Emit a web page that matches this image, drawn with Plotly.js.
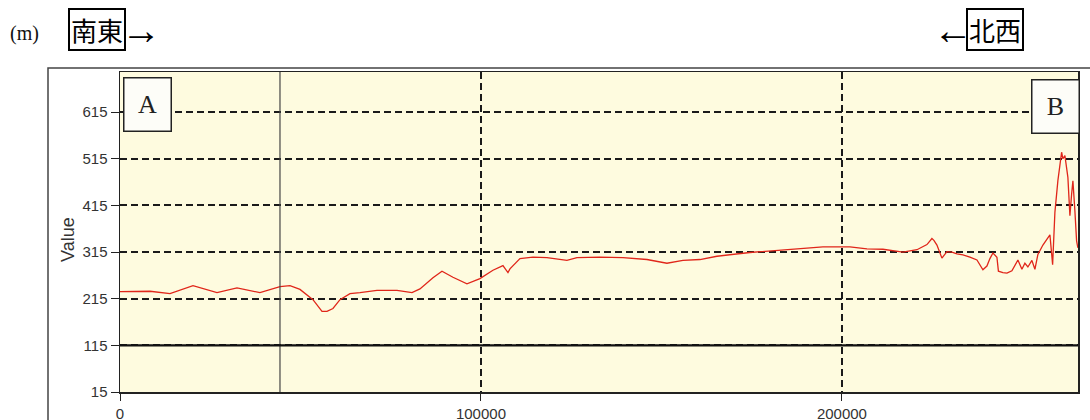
<!DOCTYPE html>
<html>
<head>
<meta charset="utf-8">
<script src="https://cdn.plot.ly/plotly-3.0.1.min.js"></script>
<style>
html,body{margin:0;padding:0;background:#ffffff;}
#chart{width:1090px;height:420px;}
</style>
</head>
<body>
<div id="chart"></div>
<script>
// Horizontal distance (m) along the profile and elevation (m)
const distance = [0, 8310, 13850, 20220, 26870, 32410, 38780, 44320, 47090, 49860,
  53460, 55960, 57340, 59000, 60940, 63710, 66480, 71190, 76730, 80890,
  83100, 86700, 89200, 92240, 96120, 99720, 103320, 106090, 107480, 108030,
  110800, 114400, 118280, 123820, 126590, 132960, 139340, 145980, 151520, 155960,
  160660, 165370, 174510, 181990, 188370, 194740, 202220, 206930, 211360, 216900,
  220780, 223550, 224930, 225480, 226320, 227700, 229090, 230470, 231860, 233520,
  235460, 237400, 239060, 240170, 241000, 241830, 242940, 243350, 244600, 245710,
  247090, 247920, 248750, 249860, 250690, 251520, 252630, 253460, 254290, 255680,
  256790, 257620, 258370, 259000, 259830, 260860, 261220, 261770, 262600, 263160,
  263630, 263990, 264540, 265010, 265370];
const elevation = [230, 231, 226, 243, 228, 238, 228, 241, 243, 235,
  213, 188, 188, 194, 213, 226, 228, 233, 233, 228,
  236, 260, 274, 261, 247, 258, 276, 286, 271, 279,
  301, 304, 303, 297, 303, 304, 303, 299, 291, 297,
  299, 306, 314, 319, 322, 326, 326, 322, 321, 315,
  320, 331, 344, 340, 330, 302, 316, 315, 311, 309,
  304, 298, 277, 285, 301, 313, 304, 274, 271, 270,
  275, 286, 298, 278, 291, 283, 297, 278, 310, 330,
  343, 352, 288, 400, 468, 529, 515, 522, 475, 393,
  439, 468, 403, 339, 324];
const xTicks = [0, 100000, 200000];
const yTicks = [15, 115, 215, 315, 415, 515, 615];
const markLineX = 44320;   // solid vertical reference line
const baseLineY = 115;     // heavy horizontal line
const xRange = [0, 265400];
const yRange = [15, 701];

// plot area in pixels
const L = 120, R = 1078, T = 72, B = 392;
const px = x => (x - L) / (R - L);
const py = y => (B - y) / (B - T);

const trace = {
  x: distance, y: elevation, type: 'scatter', mode: 'lines',
  line: {color: '#e0261a', width: 1.3}, hoverinfo: 'skip'
};

const tickFont = {family: '"Liberation Sans Narrow", "Liberation Sans", Arial, sans-serif', size: 15, color: '#333'};

const layout = {
  width: 1090, height: 420,
  margin: {l: L, r: 1090 - R, t: T, b: 420 - B, pad: 0},
  paper_bgcolor: '#ffffff',
  plot_bgcolor: '#fefbdf',
  showlegend: false,
  xaxis: {
    range: xRange, tickvals: xTicks, ticktext: xTicks.map(String),
    showgrid: true, gridcolor: '#1a1a1a', gridwidth: 2, griddash: '7px,4px',
    zeroline: false, showline: true, linecolor: '#222', linewidth: 1.5, mirror: true,
    ticks: 'outside', ticklen: 7, tickcolor: '#222', tickwidth: 1,
    tickfont: tickFont, fixedrange: true
  },
  yaxis: {
    range: yRange, tickvals: yTicks, ticktext: yTicks.map(String),
    showgrid: true, gridcolor: '#1a1a1a', gridwidth: 2, griddash: '7px,4px',
    zeroline: false, showline: true, linecolor: '#222', linewidth: 1.5, mirror: true,
    ticks: 'outside', ticklen: 8, tickcolor: '#222', tickwidth: 1,
    tickfont: tickFont, fixedrange: true
  },
  shapes: [
    {type: 'rect', xref: 'paper', yref: 'paper', x0: px(48), x1: px(1100), y0: py(440), y1: py(68),
     line: {color: '#444', width: 1.5}, fillcolor: 'rgba(0,0,0,0)', layer: 'below'},
    {type: 'line', xref: 'x', yref: 'paper', x0: markLineX, x1: markLineX, y0: 0, y1: 1,
     line: {color: '#444', width: 1.2}},
    {type: 'line', xref: 'paper', yref: 'y', x0: 0, x1: 1, y0: baseLineY, y1: baseLineY,
     line: {color: '#111', width: 2.2}}
  ],
  annotations: [
    {text: 'Value', xref: 'paper', yref: 'paper', x: px(68), y: py(240), textangle: -90,
     showarrow: false, xanchor: 'center', yanchor: 'middle',
     font: {family: 'Liberation Sans, Arial, sans-serif', size: 18, color: '#333'}},
    {text: 'A', xref: 'paper', yref: 'paper', x: px(123), y: py(77), xanchor: 'left', yanchor: 'top',
     showarrow: false, width: 44, height: 50, bgcolor: '#fdfdf8', bordercolor: '#222', borderwidth: 1.5, borderpad: 1,
     font: {family: 'Liberation Serif, Times New Roman, serif', size: 26, color: '#222'}},
    {text: 'B', xref: 'paper', yref: 'paper', x: px(1031), y: py(79), xanchor: 'left', yanchor: 'top',
     showarrow: false, width: 44, height: 50, bgcolor: '#fdfdf8', bordercolor: '#222', borderwidth: 1.5, borderpad: 1,
     font: {family: 'Liberation Serif, Times New Roman, serif', size: 26, color: '#222'}},
    {text: '(m)', xref: 'paper', yref: 'paper', x: px(24), y: py(33), xanchor: 'center', yanchor: 'middle',
     showarrow: false, font: {family: 'Liberation Serif, Times New Roman, serif', size: 20, color: '#111'}},
    {text: '南東', xref: 'paper', yref: 'paper', x: px(68), y: py(29), xanchor: 'left', yanchor: 'middle',
     showarrow: false, bordercolor: '#000', borderwidth: 2, borderpad: 1,
     font: {family: '"Noto Sans CJK JP", sans-serif', size: 26, color: '#000'}},
    {text: '→', xref: 'paper', yref: 'paper', x: px(119), y: py(31), xanchor: 'left', yanchor: 'middle',
     showarrow: false, font: {family: 'Liberation Serif, DejaVu Serif, serif', size: 40, color: '#000'}},
    {text: '←', xref: 'paper', yref: 'paper', x: px(975), y: py(31), xanchor: 'right', yanchor: 'middle',
     showarrow: false, font: {family: 'Liberation Serif, DejaVu Serif, serif', size: 40, color: '#000'}},
    {text: '北西', xref: 'paper', yref: 'paper', x: px(966), y: py(29), xanchor: 'left', yanchor: 'middle',
     showarrow: false, bordercolor: '#000', borderwidth: 2, borderpad: 1,
     font: {family: '"Noto Sans CJK JP", sans-serif', size: 26, color: '#000'}}
  ]
};

Plotly.newPlot('chart', [trace], layout, {displayModeBar: false, staticPlot: true});
</script>
</body>
</html>
